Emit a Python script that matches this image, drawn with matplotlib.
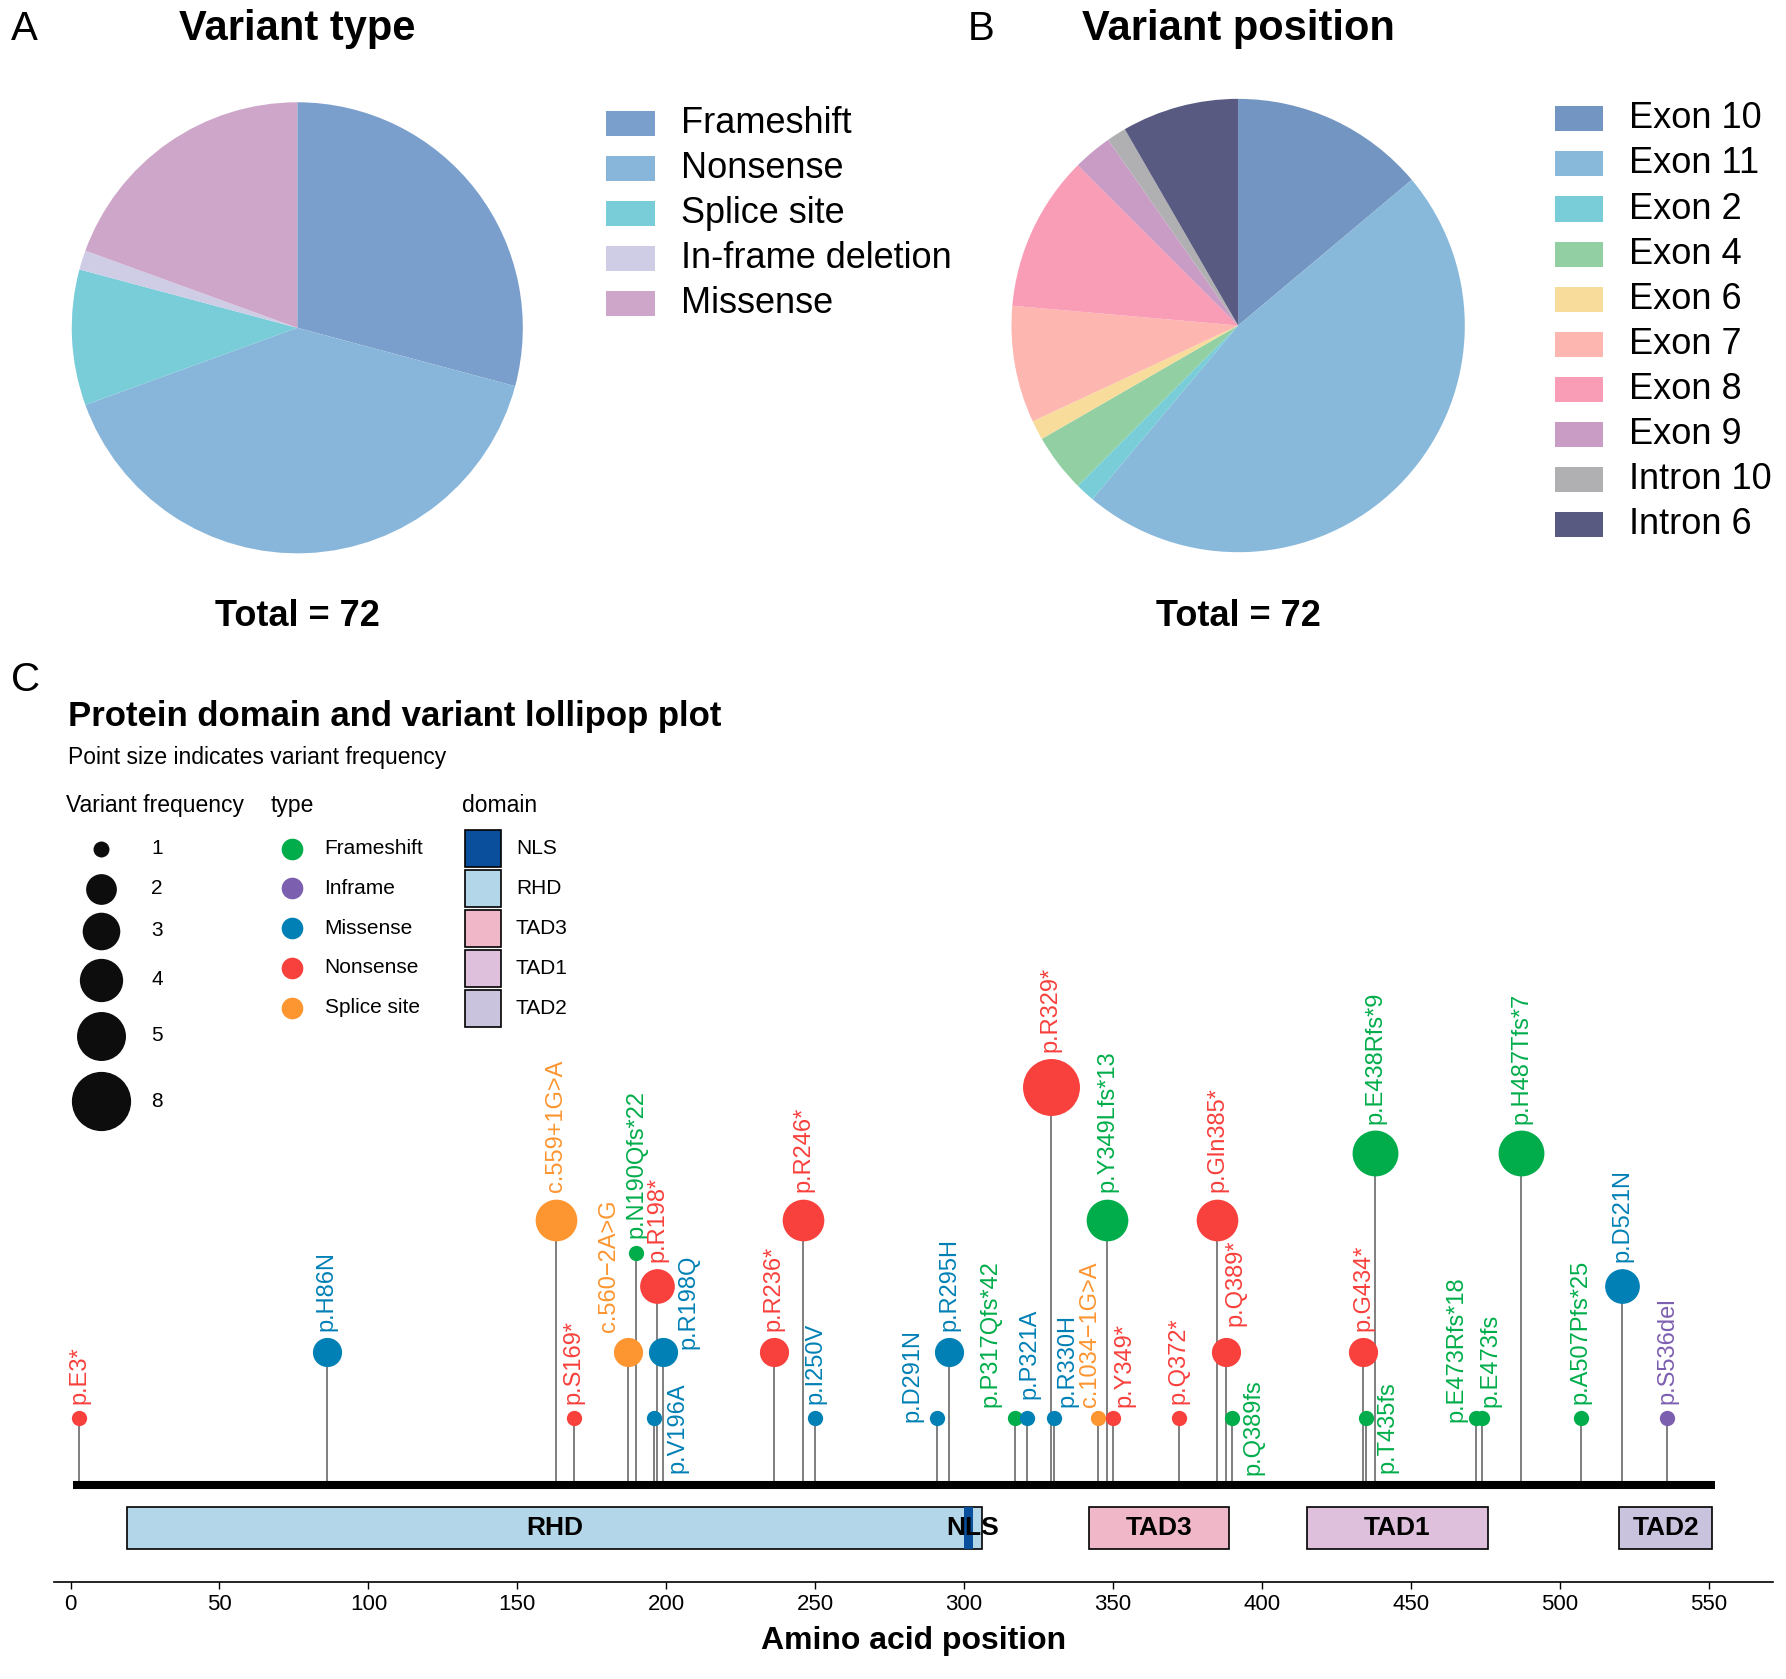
import numpy as np
import matplotlib.pyplot as plt
from matplotlib.patches import Rectangle

plt.rcParams['font.family'] = ['Liberation Sans', 'DejaVu Sans']

# ---------------- data ----------------
type_labels = ['Frameshift', 'Nonsense', 'Splice site', 'In-frame deletion', 'Missense']
type_counts = [21, 29, 7, 1, 14]
type_colors = ['#7b9fcc', '#88b6da', '#78cdd9', '#cfcce6', '#cda6c9']

pos_labels = ['Exon 10', 'Exon 11', 'Exon 2', 'Exon 4', 'Exon 6', 'Exon 7', 'Exon 8',
              'Exon 9', 'Intron 10', 'Intron 6']
pos_counts = [10, 34, 1, 3, 1, 6, 8, 2, 1, 6]
pos_colors = ['#7395c2', '#88b8da', '#78cdd9', '#92d0a3', '#f8dc9c', '#fdb6b0',
              '#f99db6', '#c99cc6', '#b0b0b2', '#585a82']

var_pos = [3, 86, 163, 169, 187, 190, 196, 197, 199, 236, 246, 250, 291, 295, 317, 321,
           329, 330, 345, 348, 350, 372, 385, 388, 390, 434, 435, 438, 472, 474, 487,
           507, 521, 536]
var_label = ['p.E3*', 'p.H86N', 'c.559+1G>A', 'p.S169*', 'c.560\u22122A>G', 'p.N190Qfs*22',
             'p.V196A', 'p.R198*', 'p.R198Q', 'p.R236*', 'p.R246*', 'p.I250V', 'p.D291N',
             'p.R295H', 'p.P317Qfs*42', 'p.P321A', 'p.R329*', 'p.R330H', 'c.1034\u22121G>A',
             'p.Y349Lfs*13', 'p.Y349*', 'p.Q372*', 'p.Gln385*', 'p.Q389*', 'p.Q389fs',
             'p.G434*', 'p.T435fs', 'p.E438Rfs*9', 'p.E473Rfs*18', 'p.E473fs',
             'p.H487Tfs*7', 'p.A507Pfs*25', 'p.D521N', 'p.S536del']
var_type = ['Nonsense', 'Missense', 'Splice site', 'Nonsense', 'Splice site', 'Frameshift',
            'Missense', 'Nonsense', 'Missense', 'Nonsense', 'Nonsense', 'Missense', 'Missense',
            'Missense', 'Frameshift', 'Missense', 'Nonsense', 'Missense', 'Splice site',
            'Frameshift', 'Nonsense', 'Nonsense', 'Nonsense', 'Nonsense', 'Frameshift',
            'Nonsense', 'Frameshift', 'Frameshift', 'Frameshift', 'Frameshift',
            'Frameshift', 'Frameshift', 'Missense', 'Inframe']
var_freq = [1, 2, 4, 1, 2, 1, 1, 3, 2, 2, 4, 1, 1, 2, 1, 1, 8, 1, 1, 4, 1, 1, 4, 2, 1,
            2, 1, 5, 1, 1, 5, 1, 3, 1]
var_height = [1, 2, 4, 1, 2, 3.5, 1, 3, 2, 2, 4, 1, 1, 2, 1, 1, 6, 1, 1, 4, 1, 1, 4, 2, 1,
              2, 1, 5, 1, 1, 5, 1, 3, 1]

dom_names = ['RHD', 'NLS', 'TAD3', 'TAD1', 'TAD2']
dom_start = [19, 300, 342, 415, 520]
dom_end = [306, 303, 389, 476, 551]
dom_colors = {'NLS': '#0a4f9c', 'RHD': '#b3d7e8', 'TAD3': '#f0b7c8',
              'TAD1': '#dfc0dc', 'TAD2': '#c9c3dd'}
dom_legend = ['NLS', 'RHD', 'TAD3', 'TAD1', 'TAD2']

type_col = {'Frameshift': '#00ad4a', 'Inframe': '#7d5fb0', 'Missense': '#0080b5',
            'Nonsense': '#f8403c', 'Splice site': '#fd9530'}
freq_levels = [1, 2, 3, 4, 5, 8]
freq_diam = {1: 11, 2: 21, 3: 25, 4: 30, 5: 33, 8: 41}   # points

# special label placements (ref px offsets dx, dy, va)
label_offsets = {
    'p.V196A': (20, -8, 'center'), 'p.R198Q': (22, 3, 'bottom'),
    'c.560\u22122A>G': (-16, 18, 'bottom'), 'p.D291N': (-22, -3, 'bottom'),
    'p.P317Qfs*42': (-21, 10, 'bottom'), 'p.P321A': (2, 17, 'bottom'),
    'p.R330H': (12, 10, 'bottom'), 'c.1034\u22121G>A': (-7, 10, 'bottom'),
    'p.Y349*': (10, 10, 'bottom'), 'p.Q389*': (8, 23, 'bottom'),
    'p.Q389fs': (19, -8, 'center'), 'p.T435fs': (19, -8, 'center'),
    'p.E473Rfs*18': (-18, -3, 'bottom'), 'p.E473fs': (7, 10, 'bottom'),
}

W, H = 1568, 1470   # reference layout units
PT = 0.82           # reference px -> points

fig = plt.figure(figsize=(17.86, 16.79), dpi=100)


def box(x0, y0, x1, y1):
    return [x0 / W, 1 - y1 / H, (x1 - x0) / W, (y1 - y0) / H]


# ---------------- pies ----------------
axA = fig.add_axes(box(63, 89, 459, 485))
axA.pie(type_counts, colors=type_colors, startangle=90, counterclock=False,
        wedgeprops=dict(linewidth=0))
axA.set_xlim(-1, 1)
axA.set_ylim(-1, 1)
axA.set_aspect('equal')
axB = fig.add_axes(box(888, 86, 1286, 484))
axB.pie(pos_counts, colors=pos_colors, startangle=90, counterclock=False,
        wedgeprops=dict(linewidth=0))
axB.set_xlim(-1, 1)
axB.set_ylim(-1, 1)
axB.set_aspect('equal')

# ---------------- lollipop ----------------
ax = fig.add_axes(box(47, 880, 1557, 1385))
ax.set_xlim(-5.7, 571.7)
ax.set_ylim(-1.47, 7.24)
for s in ['top', 'right', 'left']:
    ax.spines[s].set_visible(False)
ax.spines['bottom'].set_linewidth(1.2)
ax.set_yticks([])
ax.set_xticks(np.arange(0, 551, 50))
ax.tick_params(axis='x', labelsize=16, length=5, width=1)
ax.set_xlabel('Amino acid position', fontsize=23, fontweight='bold', labelpad=8)

ax.plot([1, 552], [0, 0], color='black', lw=5.8, solid_capstyle='butt', zorder=3)
for x, h in zip(var_pos, var_height):
    ax.plot([x, x], [0, h], color='#7f7f7f', lw=1.4, zorder=2)
for x, h, t, f, lab in zip(var_pos, var_height, var_type, var_freq, var_label):
    d = freq_diam[f]
    ax.scatter([x], [h], s=d ** 2, color=type_col[t], zorder=4, linewidths=0)
    if lab in label_offsets:
        dx, dy, va = label_offsets[lab]
        off = (dx * PT, dy * PT)
    else:
        off = (0, d / 2 + 6 * PT)
        va = 'bottom'
    ax.annotate(lab, (x, h), xytext=off, textcoords='offset points', rotation=90,
                ha='center', va=va, fontsize=17, color=type_col[t])

for name, a, b in zip(dom_names, dom_start, dom_end):
    ax.add_patch(Rectangle((a, -0.98), b - a, 0.635, facecolor=dom_colors[name],
                           edgecolor='black' if name != 'NLS' else 'none', lw=1.2, zorder=3))
for name, a, b in zip(dom_names, dom_start, dom_end):
    cx = (a + b) / 2 if name != 'NLS' else 303
    ax.text(cx, -0.66, name, ha='center', va='center', fontsize=19, fontweight='bold', zorder=5)

# ---------------- overlay text & legends ----------------
ov = fig.add_axes([0, 0, 1, 1], zorder=10)
ov.set_xlim(0, W)
ov.set_ylim(H, 0)
ov.axis('off')

ov.text(10, 25, 'A', fontsize=29, va='center')
ov.text(850, 25, 'B', fontsize=29, va='center')
ov.text(10, 595, 'C', fontsize=29, va='center')
ov.text(261, 25, 'Variant type', fontsize=30, fontweight='bold', ha='center', va='center')
ov.text(1087, 25, 'Variant position', fontsize=30, fontweight='bold', ha='center', va='center')
ov.text(261, 540, 'Total = 72', fontsize=26, fontweight='bold', ha='center', va='center')
ov.text(1087, 540, 'Total = 72', fontsize=26, fontweight='bold', ha='center', va='center')

for i, (lab, c) in enumerate(zip(type_labels, type_colors)):
    y = 108 + i * 39.5
    ov.add_patch(Rectangle((532, y - 11), 43, 22, facecolor=c, edgecolor='none'))
    ov.text(598, y, lab, fontsize=26, va='center')
for i, (lab, c) in enumerate(zip(pos_labels, pos_colors)):
    y = 104 + i * 39.5
    ov.add_patch(Rectangle((1365, y - 11), 42, 22, facecolor=c, edgecolor='none'))
    ov.text(1430, y, lab, fontsize=26, va='center')

ov.text(60, 627, 'Protein domain and variant lollipop plot', fontsize=25,
        fontweight='bold', va='center')
ov.text(60, 663, 'Point size indicates variant frequency', fontsize=16.5, va='center')

ov.text(58, 705, 'Variant frequency', fontsize=16.5, va='center')
fy = [743, 778, 815, 858, 907, 964]
leg_d = {1: 14, 2: 27, 3: 33, 4: 38, 5: 43, 8: 52}
for f, y in zip(freq_levels, fy):
    ov.scatter([89], [y], s=(leg_d[f] * PT) ** 2, color='#0d0d0d', linewidths=0)
    ov.text(133, y, str(f), fontsize=15, va='center')

ov.text(238, 705, 'type', fontsize=16.5, va='center')
for i, t in enumerate(['Frameshift', 'Inframe', 'Missense', 'Nonsense', 'Splice site']):
    y = 743 + i * 34.8
    ov.scatter([256], [y], s=(19 * PT) ** 2, color=type_col[t], linewidths=0)
    ov.text(285, y, t, fontsize=15, va='center')

ov.text(406, 705, 'domain', fontsize=16.5, va='center')
for i, name in enumerate(dom_legend):
    y = 743 + i * 35
    ov.add_patch(Rectangle((408, y - 16), 32, 32, facecolor=dom_colors[name],
                           edgecolor='black', lw=1.2))
    ov.text(453, y, name, fontsize=15, va='center')

fig.savefig('out.png', dpi=100)
